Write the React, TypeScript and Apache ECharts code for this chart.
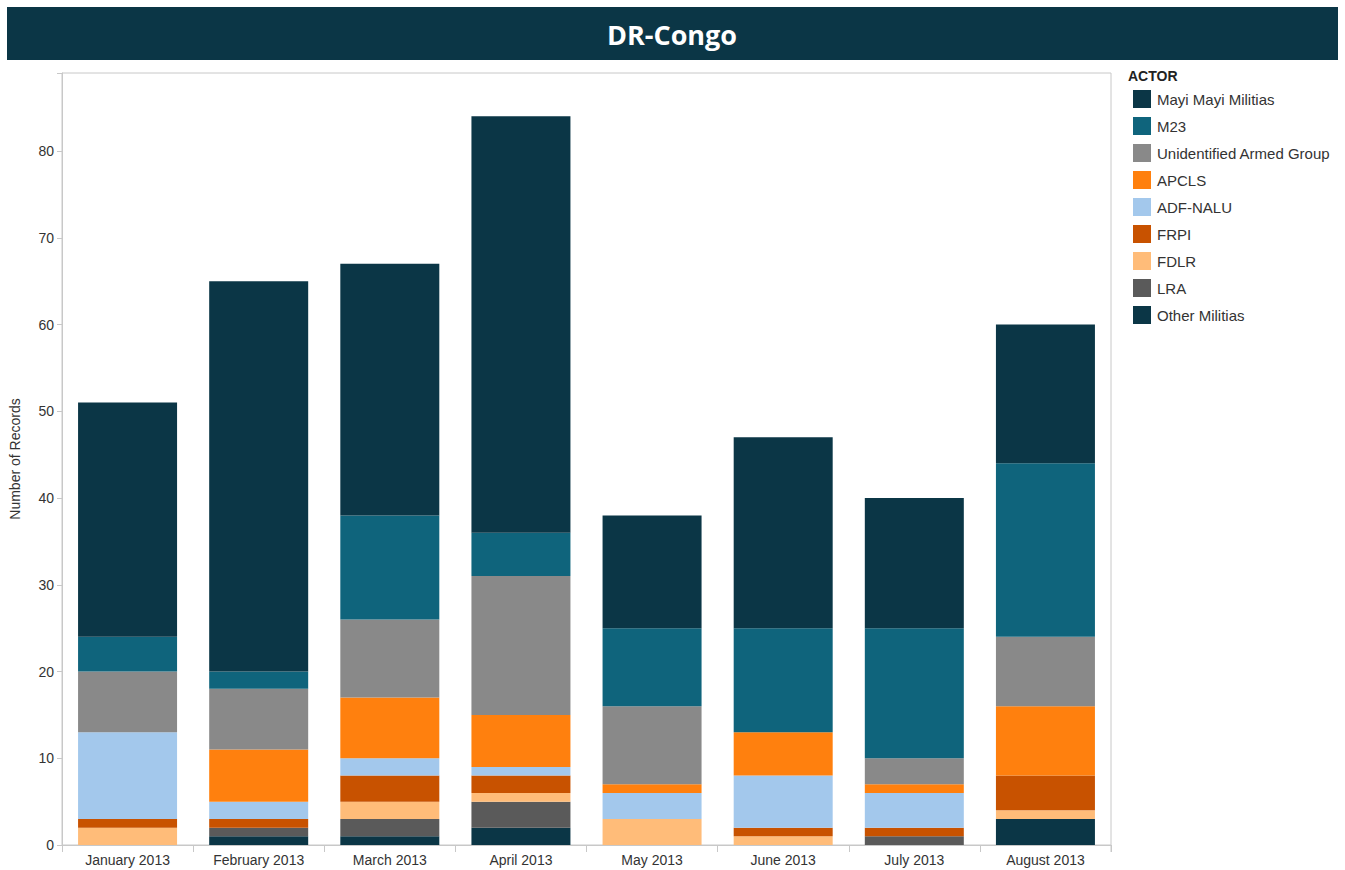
import React, { useEffect, useRef } from "react";
import * as echarts from "echarts";

const categories = [
  "January 2013",
  "February 2013",
  "March 2013",
  "April 2013",
  "May 2013",
  "June 2013",
  "July 2013",
  "August 2013",
];

// Stack order from bottom to top
const otherMilitias = [0, 1, 1, 2, 0, 0, 0, 3];
const lra = [0, 1, 2, 3, 0, 0, 1, 0];
const fdlr = [2, 0, 2, 1, 3, 1, 0, 1];
const frpi = [1, 1, 3, 2, 0, 1, 1, 4];
const adfNalu = [10, 2, 2, 1, 3, 6, 4, 0];
const apcls = [0, 6, 7, 6, 1, 5, 1, 8];
const unidentified = [7, 7, 9, 16, 9, 0, 3, 8];
const m23 = [4, 2, 12, 5, 9, 12, 15, 20];
const mayiMayi = [27, 45, 29, 48, 13, 22, 15, 16];

const yTicks = [0, 10, 20, 30, 40, 50, 60, 70, 80];

const stackSeries = [
  { name: "Other Militias", data: otherMilitias, color: "#0b3646" },
  { name: "LRA", data: lra, color: "#5a5a5a" },
  { name: "FDLR", data: fdlr, color: "#ffbc79" },
  { name: "FRPI", data: frpi, color: "#c85200" },
  { name: "ADF-NALU", data: adfNalu, color: "#a3c8ec" },
  { name: "APCLS", data: apcls, color: "#ff800e" },
  { name: "Unidentified Armed Group", data: unidentified, color: "#898989" },
  { name: "M23", data: m23, color: "#0f647c" },
  { name: "Mayi Mayi Militias", data: mayiMayi, color: "#0b3646" },
];

const legendOrder = [
  "Mayi Mayi Militias",
  "M23",
  "Unidentified Armed Group",
  "APCLS",
  "ADF-NALU",
  "FRPI",
  "FDLR",
  "LRA",
  "Other Militias",
];

export default function App() {
  const ref = useRef<HTMLDivElement>(null);

  useEffect(() => {
    if (!ref.current) return;
    const chart = echarts.init(ref.current, undefined, { renderer: "svg" });
    const font = "'Liberation Sans', Arial, sans-serif";
    chart.setOption({
      animation: false,
      backgroundColor: "#ffffff",
      textStyle: { fontFamily: font },
      graphic: [
        {
          type: "rect",
          shape: { x: 7, y: 7, width: 1331, height: 53 },
          style: { fill: "#0b3646" },
          silent: true,
        },
        {
          type: "text",
          x: 672,
          y: 34,
          style: {
            text: "DR-Congo",
            fill: "#ffffff",
            font: "bold 27px 'Open Sans', 'Liberation Sans', sans-serif",
            textAlign: "center",
            textVerticalAlign: "middle",
          },
          silent: true,
        },
        {
          type: "text",
          x: 1128,
          y: 69,
          style: {
            text: "ACTOR",
            fill: "#222222",
            font: "bold 14px 'Liberation Sans', Arial, sans-serif",
          },
          silent: true,
        },
        {
          type: "line",
          shape: { x1: 1111, y1: 845, x2: 1111, y2: 852 },
          style: { stroke: "#c8c8c8", lineWidth: 1 },
          silent: true,
        },
      ],
      legend: {
        orient: "vertical",
        left: 1128,
        top: 85,
        itemWidth: 18,
        itemHeight: 18,
        itemGap: 9,
        icon: "rect",
        data: legendOrder,
        textStyle: { fontSize: 15, color: "#333333", fontFamily: font, padding: [0, 0, 0, 1] },
        selectedMode: false,
      },
      grid: {
        left: 61,
        right: 234,
        top: 73,
        bottom: 25,
        show: true,
        borderColor: "#c8c8c8",
        borderWidth: 1,
      },
      xAxis: {
        type: "category",
        data: categories,
        axisLine: { lineStyle: { color: "#c8c8c8" } },
        axisTick: { show: true, length: 7, lineStyle: { color: "#c8c8c8" } },
        axisLabel: { color: "#333333", fontSize: 14, margin: 8 },
      },
      yAxis: {
        type: "value",
        min: 0,
        max: 89,
        interval: 10,
        name: "Number of Records",
        nameLocation: "middle",
        nameGap: 40,
        nameTextStyle: { color: "#333333", fontSize: 14 },
        axisLine: { show: true, lineStyle: { color: "#c8c8c8" } },
        axisTick: { show: true, length: 5, lineStyle: { color: "#c8c8c8" } },
        axisLabel: {
          color: "#333333",
          fontSize: 14,
          margin: 8,
          formatter: (v: number) => (yTicks.includes(v) ? String(v) : ""),
        },
        splitLine: { show: false },
      },
      series: stackSeries.map((s) => ({
        name: s.name,
        type: "bar",
        stack: "total",
        data: s.data,
        barWidth: 99,
        itemStyle: { color: s.color },
        emphasis: { disabled: true },
      })),
    });
    return () => chart.dispose();
  }, []);

  return (
    <div
      ref={ref}
      style={{ position: "fixed", left: 0, top: 0, width: 1345, height: 870 }}
    />
  );
}
